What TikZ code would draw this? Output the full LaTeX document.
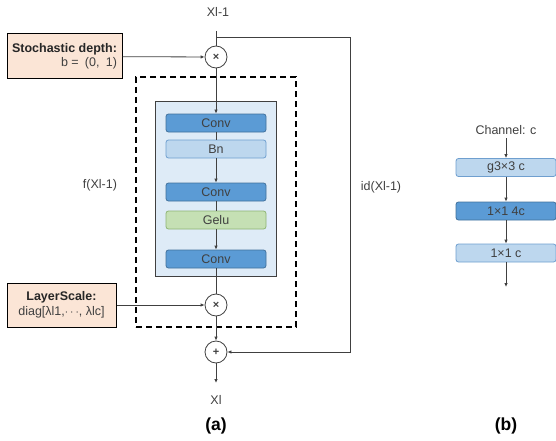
\documentclass[tikz,border=0pt]{standalone}
\usepackage{fontspec}
\setmainfont{Liberation Sans}
\usetikzlibrary{arrows.meta,positioning}
\definecolor{peach}{HTML}{FBE5D6}
\definecolor{convblue}{HTML}{5B9BD5}
\definecolor{convline}{HTML}{41719C}
\definecolor{bnblue}{HTML}{BDD7EE}
\definecolor{bnline}{HTML}{6F9FCF}
\definecolor{gelugreen}{HTML}{C5E0B4}
\definecolor{geluline}{HTML}{8FB573}
\definecolor{blockfill}{HTML}{DEEBF7}
\definecolor{linegray}{HTML}{404040}

\begin{document}
\begin{tikzpicture}[
    x=1pt,y=-1pt,
    >={Latex[length=4pt,width=3.5pt]},
    font=\fontsize{12.5}{14.5}\selectfont,
    color=linegray,
    line width=0.8pt,
    layer/.style={rectangle,draw,rounded corners=2.5pt,minimum width=100pt,minimum height=18pt,inner sep=0pt,text=linegray},
    convbox/.style={layer,draw=convline,fill=convblue},
    bnbox/.style={layer,draw=bnline,fill=bnblue},
    gelubox/.style={layer,draw=geluline,fill=gelugreen},
    opnode/.style={circle,draw,fill=white,minimum size=22pt,inner sep=0pt,font=\fontsize{11}{11}\selectfont\bfseries},
    parambox/.style={rectangle,draw=black,line width=1pt,fill=peach,inner sep=2pt,text=linegray},
    caption/.style={font=\fontsize{17.5}{20}\selectfont\bfseries,text=black}
]
\useasboundingbox (0,0) rectangle (556,441);

% block (a)
\node[rectangle,draw=black,dashed,line width=1.4pt,dash pattern=on 6pt off 4pt,minimum width=160pt,minimum height=250pt] (resblock) at (216,202) {};
\node[rectangle,draw=linegray,line width=1pt,fill=blockfill,minimum width=121pt,minimum height=174pt] (inner) at (216,189) {};

\node (xin) at (218,12) {Xl-1};
\coordinate (top) at (216,31);
\coordinate (split) at (216,37);
\coordinate (skipa) at (350,37);
\coordinate (skipb) at (350,352);

\node[opnode] (mula) at (216,57) {×};
\node[convbox] (conva) at (216,123) {Conv};
\node[bnbox] (bn) at (216,149) {Bn};
\node[convbox] (convb) at (216,192) {Conv};
\node[gelubox] (gelu) at (216,220) {Gelu};
\node[convbox] (convc) at (216,259) {Conv};
\node[opnode] (mulb) at (216,305) {×};
\node[opnode] (add) at (216,352) {+};
\coordinate (out) at (216,383);
\node (xout) at (216,400) {Xl};
\node[caption] (capa) at (216,426) {(a)};

\node[parambox,align=right,minimum width=115pt,minimum height=45pt] (drop) at (64.5,56.5) {\textbf{\color{black!85}Stochastic depth:}\\b =\enspace (0,\enspace 1)};
\node[parambox,align=center,minimum width=109pt,minimum height=44pt] (scale) at (61.5,305) {\textbf{\color{black!85}LayerScale:}\\diag[λl1,$\cdots$, λlc]};

\node (flabel) at (100,185) {f(Xl-1)};
\node (idlabel) at (381,187) {id(Xl-1)};

\draw (top) -- (mula);
\draw[->] (drop) -- (mula);
\draw[->] (mula) -- (conva);
\draw (conva) -- (bn);
\draw[->] (bn) -- (convb);
\draw (convb) -- (gelu);
\draw[->] (gelu) -- (convc);
\draw (convc) -- (mulb);
\draw[->] (scale) -- (mulb);
\draw[->] (mulb) -- (add);
\draw[->] (add) -- (out);
\draw[->] (split) -- (skipa) -- (skipb) -- (add);

% block (b)
\node (chan) at (506,130) {Channel: c};
\node[bnbox] (dw) at (506,167.5) {g3×3 c};
\node[convbox] (pwa) at (506,211) {1×1 4c};
\node[bnbox] (pwb) at (506,253) {1×1 c};
\coordinate (bout) at (506,287);
\node[caption] (capb) at (506,426) {(b)};

\draw[->] (chan) -- (dw);
\draw[->] (dw) -- (pwa);
\draw[->] (pwa) -- (pwb);
\draw[->] (pwb) -- (bout);
\end{tikzpicture}
\end{document}
